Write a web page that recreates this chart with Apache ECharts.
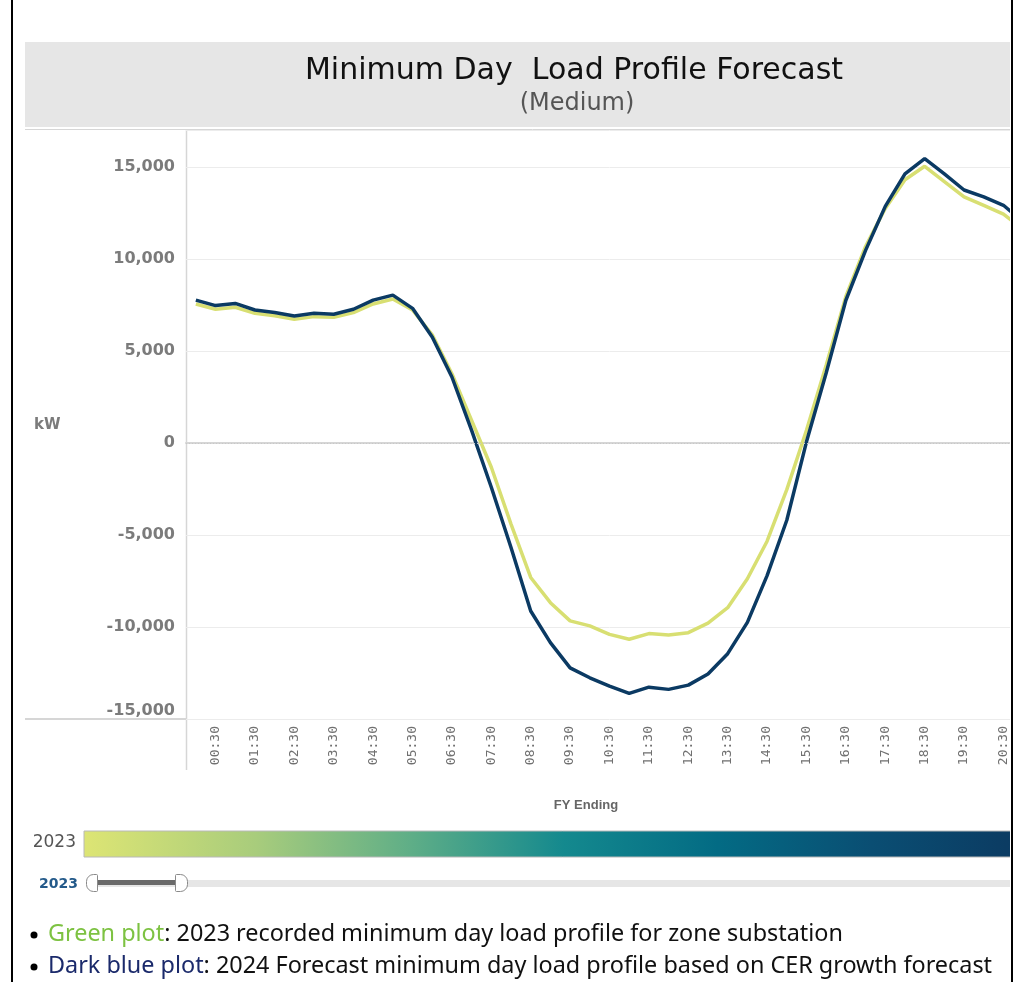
<!DOCTYPE html>
<html>
<head>
<meta charset="utf-8">
<title>Minimum Day Load Profile Forecast</title>
<script src="https://cdn.jsdelivr.net/npm/echarts@6/dist/echarts.min.js"></script>
<style>
  body { margin: 0; background: #fff; }
  #wrap { position: absolute; left: 0; top: 0; width: 1010px; height: 982px; overflow: hidden; }
  #main { width: 1040px; height: 982px; }
  .edge { position: absolute; top: 0; width: 2px; height: 982px; background: #000; }
</style>
</head>
<body>
<div id="wrap"><div id="main"></div></div>
<div class="edge" style="left:11px"></div>
<div class="edge" style="left:1011px"></div>
<script>
// half-hour slots (chart is cut off on the right after 21:00)
var times = ['00:00','00:30','01:00','01:30','02:00','02:30','03:00','03:30','04:00','04:30',
             '05:00','05:30','06:00','06:30','07:00','07:30','08:00','08:30','09:00','09:30',
             '10:00','10:30','11:00','11:30','12:00','12:30','13:00','13:30','14:00','14:30',
             '15:00','15:30','16:00','16:30','17:00','17:30','18:00','18:30','19:00','19:30',
             '20:00','20:30','21:00'];

// green plot: 2023 recorded minimum day (kW)
var load2023 = [7550, 7260, 7370, 7040, 6910, 6720, 6860, 6820, 7080, 7550,
                7820, 7220, 5870, 3760, 1220, -1320, -4410, -7310, -8680, -9670,
                -9940, -10400, -10670, -10360, -10440, -10310, -9790, -8950, -7380, -5340,
                -2540, 690, 4220, 7960, 10670, 12740, 14300, 15030, 14200, 13370,
                12910, 12430, 11600];

// dark blue plot: 2024 forecast (kW)
var forecast2024 = [7760, 7460, 7580, 7220, 7090, 6900, 7040, 6990, 7260, 7760,
                    8030, 7310, 5750, 3580, 680, -2410, -5680, -9130, -10850, -12220,
                    -12760, -13210, -13610, -13270, -13390, -13160, -12550, -11450, -9750, -7210,
                    -4200, 60, 3800, 7750, 10460, 12850, 14620, 15450, 14620, 13740,
                    13370, 12910, 12000];

var yMin = -15000, yMax = 17000, yStep = 5000;

var chart = echarts.init(document.getElementById('main'));

var grey = '#d6d6d6';

chart.setOption({
  animation: false,
  grid: { left: 186, top: 130, width: 847, height: 589 },
  xAxis: {
    type: 'category',
    data: times,
    boundaryGap: true,
    axisTick: { show: false },
    axisLine: { lineStyle: { color: grey, width: 2 } },
    axisLabel: {
      rotate: 90,
      interval: function (i) { return i % 2 === 1; },
      fontFamily: 'DejaVu Sans Mono',
      fontSize: 13,
      color: '#707070',
      margin: 7
    },
    splitLine: { show: false }
  },
  yAxis: {
    type: 'value',
    min: yMin,
    max: yMax,
    interval: yStep,
    axisLine: { show: false },
    axisTick: { show: false },
    splitLine: { lineStyle: { color: '#ececec', width: 1 } },
    axisLabel: {
      margin: 11,
      fontFamily: 'DejaVu Sans',
      fontWeight: 'bold',
      fontSize: 16,
      color: '#7b7b7b',
      verticalAlignMinLabel: 'bottom',
      formatter: function (v) {
        return v % yStep === 0 ? v.toLocaleString('en-US') : '';
      }
    }
  },
  series: [
    {
      name: '2023',
      type: 'line',
      data: load2023,
      symbol: 'none',
      lineStyle: { color: '#d8df72', width: 3.5 },
      markLine: {
        silent: true,
        symbol: 'none',
        label: { show: false },
        lineStyle: { color: '#c8c8c8', type: [1, 2], width: 1 },
        data: [{ yAxis: 0 }]
      }
    },
    {
      name: '2024',
      type: 'line',
      data: forecast2024,
      symbol: 'none',
      lineStyle: { color: '#0b3a63', width: 3.5 }
    }
  ],
  graphic: [
    // title band
    { type: 'rect', shape: { x: 25, y: 42, width: 1010, height: 85 }, style: { fill: '#e6e6e6' }, z: -10 },
    { type: 'text', style: { text: 'Minimum Day  Load Profile Forecast', x: 574, y: 71, textAlign: 'center', textVerticalAlign: 'middle', font: '30px "DejaVu Sans"', fill: '#111' } },
    { type: 'text', style: { text: '(Medium)', x: 577, y: 104, textAlign: 'center', textVerticalAlign: 'middle', font: '24px "DejaVu Sans"', fill: '#555' } },
    // pane borders
    { type: 'line', shape: { x1: 25, y1: 129.5, x2: 1040, y2: 129.5 }, style: { stroke: grey, lineWidth: 1 } },
    { type: 'line', shape: { x1: 186.5, y1: 130, x2: 186.5, y2: 770 }, style: { stroke: grey, lineWidth: 1.5 } },
    { type: 'line', shape: { x1: 25, y1: 719, x2: 187, y2: 719 }, style: { stroke: grey, lineWidth: 2 } },
    // axis titles
    { type: 'text', style: { text: 'kW', x: 34, y: 425, textVerticalAlign: 'middle', font: 'bold 15px "DejaVu Sans"', fill: '#7b7b7b' } },
    { type: 'text', style: { text: 'FY Ending', x: 586, y: 805, textAlign: 'center', textVerticalAlign: 'middle', font: 'bold 13px "Liberation Sans"', fill: '#666' } },
    // colour legend
    { type: 'text', style: { text: '2023', x: 76, y: 843, textAlign: 'right', textVerticalAlign: 'middle', font: '17px "DejaVu Sans"', fill: '#555' } },
    {
      type: 'rect', shape: { x: 84, y: 831, width: 960, height: 26 },
      style: {
        stroke: '#b8b8b8', lineWidth: 1,
        fill: new echarts.graphic.LinearGradient(0, 0, 1, 0, [
          { offset: 0, color: '#dde574' },
          { offset: 0.18, color: '#a8cc7c' },
          { offset: 0.34, color: '#5fae87' },
          { offset: 0.5, color: '#14898e' },
          { offset: 0.66, color: '#036b84' },
          { offset: 0.82, color: '#0a4e73' },
          { offset: 0.96, color: '#0b3c63' },
          { offset: 1, color: '#0b3a62' }
        ])
      }
    },
    // year slider
    { type: 'text', style: { text: '2023', x: 78, y: 884, textAlign: 'right', textVerticalAlign: 'middle', font: 'bold 14px "DejaVu Sans"', fill: '#245a8a' } },
    { type: 'rect', shape: { x: 92, y: 880, width: 960, height: 7 }, style: { fill: '#e6e6e6' } },
    { type: 'rect', shape: { x: 96, y: 880, width: 80, height: 5 }, style: { fill: '#6a6a6a' } },
    { type: 'rect', shape: { x: 86.5, y: 874.5, width: 11, height: 17, r: [7, 1, 1, 7] }, style: { fill: '#fff', stroke: '#8a8a8a', lineWidth: 1 } },
    { type: 'rect', shape: { x: 175.5, y: 874.5, width: 12, height: 17, r: [1, 7, 7, 1] }, style: { fill: '#fff', stroke: '#8a8a8a', lineWidth: 1 } },
    // notes
    { type: 'circle', shape: { cx: 34, cy: 935, r: 3.5 }, style: { fill: '#000' } },
    { type: 'circle', shape: { cx: 34, cy: 967, r: 3.5 }, style: { fill: '#000' } },
    {
      type: 'text',
      style: {
        text: '{g|Green plot}: 2023 recorded minimum day load profile for zone substation',
        x: 48, y: 934, textVerticalAlign: 'middle', font: '23.4px "Noto Sans"', fill: '#111',
        rich: { g: { fill: '#7dc242', font: '23.4px "Noto Sans"' } }
      }
    },
    {
      type: 'text',
      style: {
        text: '{b|Dark blue plot}: 2024 Forecast minimum day load profile based on CER growth forecast',
        x: 48, y: 966, textVerticalAlign: 'middle', font: '23.4px "Noto Sans"', fill: '#111',
        rich: { b: { fill: '#1b2a6b', font: '23.4px "Noto Sans"' } }
      }
    }
  ]
});
</script>
</body>
</html>
